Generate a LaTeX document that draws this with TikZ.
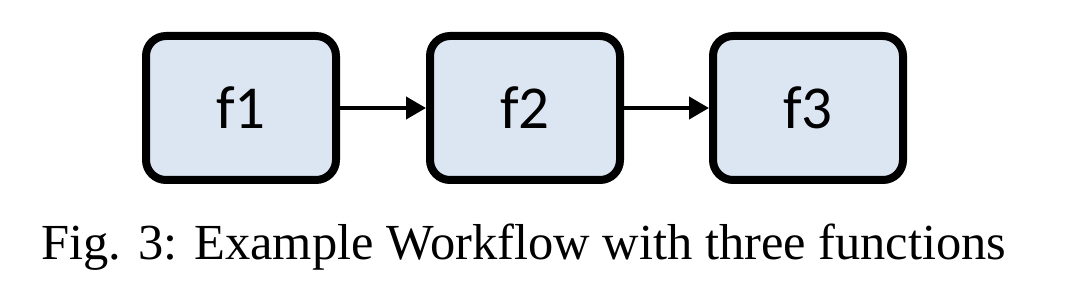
\documentclass[tikz,border=0pt]{standalone}
\usepackage{fontspec}
\setmainfont{Liberation Serif}
\newfontfamily\boxfont{Carlito}
\usetikzlibrary{arrows.meta}
\definecolor{funcfill}{HTML}{DCE6F2}
\begin{document}
\begin{tikzpicture}[x=1pt, y=-1pt,
  func/.style={draw, line width=8pt, rounded corners=20pt, fill=funcfill,
    minimum width=190pt, minimum height=144pt, font=\boxfont\fontsize{61}{70}\selectfont},
  flow/.style={line width=4pt, -{Triangle[length=20pt, width=22pt]}}]
  \useasboundingbox (0,0) rectangle (1066,286);
  \node[func] (f1) at (241,108) {f1};
  \node[func] (f2) at (525,108) {f2};
  \node[func] (f3) at (808,108) {f3};
  \draw[flow] (f1) -- (f2);
  \draw[flow] (f2) -- (f3);
  \node[anchor=base, font=\fontsize{50.5}{60}\selectfont, inner sep=0pt] (cap) at (524,259)
    {Fig. 3: Example Workflow with three functions};
\end{tikzpicture}
\end{document}
